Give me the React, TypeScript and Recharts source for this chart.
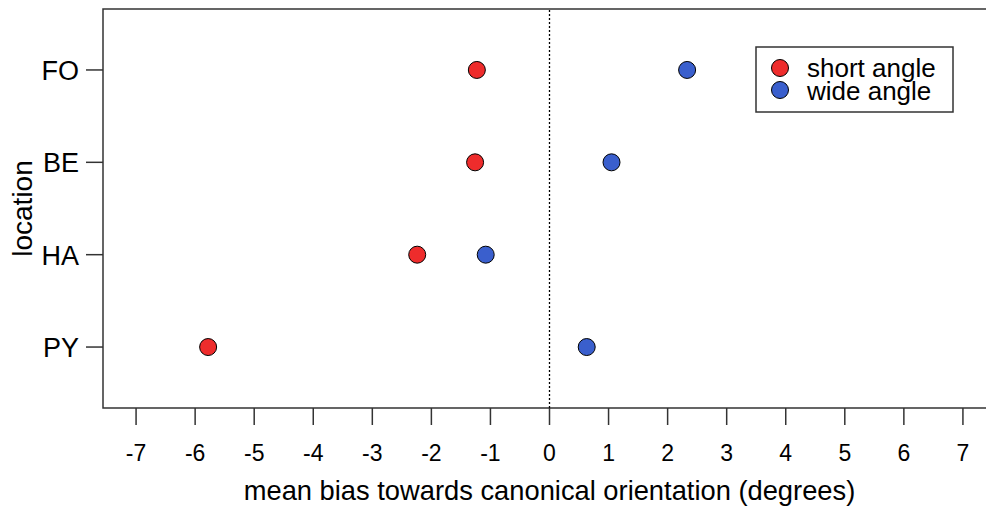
import {
  Label,
  Legend,
  ReferenceArea,
  ReferenceLine,
  Scatter,
  ScatterChart,
  XAxis,
  YAxis,
} from 'recharts';

const locations = ['PY', 'HA', 'BE', 'FO'];
const shortAngle = [-5.78, -2.24, -1.26, -1.23];
const wideAngle = [0.63, -1.08, 1.05, 2.33];
const xTicks = [-7, -6, -5, -4, -3, -2, -1, 0, 1, 2, 3, 4, 5, 6, 7];
const yTicks = [1, 2, 3, 4];

const RED = '#EE2C2C';
const BLUE = '#3A5FCD';
const FONT = '"Liberation Sans", Arial, sans-serif';

const shortData = shortAngle.map((v, i) => ({ x: v, y: i + 1, loc: locations[i] }));
const wideData = wideAngle.map((v, i) => ({ x: v, y: i + 1, loc: locations[i] }));

function Dot(fill: string) {
  return (props: any) => (
    <circle cx={props.cx} cy={props.cy} r={8.5} fill={fill} stroke="#000" strokeWidth={1} />
  );
}

function XTick({ x, y, payload }: any) {
  return (
    <text x={x} y={y + 36} textAnchor="middle" fontSize={23} fontFamily={FONT} fill="#000">
      {payload.value}
    </text>
  );
}

function YTick({ x, y, payload }: any) {
  return (
    <text x={x} y={y + 10} textAnchor="end" fontSize={27} fontFamily={FONT} fill="#000">
      {locations[payload.value - 1]}
    </text>
  );
}

function LegendBox() {
  return (
    <svg width={200} height={68}>
      <rect x={1} y={1} width={197} height={65} fill="#fff" stroke="#333" strokeWidth={1.5} />
      <circle cx={25} cy={22} r={8.5} fill={RED} stroke="#000" strokeWidth={1} />
      <circle cx={25} cy={44} r={8.5} fill={BLUE} stroke="#000" strokeWidth={1} />
      <text x={52} y={31} fontSize={26} fontFamily={FONT} fill="#000">short angle</text>
      <text x={52} y={54} fontSize={26} fontFamily={FONT} fill="#000">wide angle</text>
    </svg>
  );
}

export default function App() {
  return (
    <div
      style={{
        position: 'absolute',
        left: 0,
        top: 0,
        width: 986,
        height: 512,
        overflow: 'hidden',
        background: '#fff',
      }}
    >
      <ScatterChart width={1000} height={512} margin={{ top: 9, right: 4, bottom: 0, left: 0 }}>
        <XAxis
          type="number"
          dataKey="x"
          domain={[-7.56, 7.56]}
          ticks={xTicks}
          interval={0}
          allowDataOverflow
          height={104}
          axisLine={false}
          tickSize={17}
          tickMargin={0}
          tickLine={{ stroke: '#333', strokeWidth: 1.5 }}
          tick={<XTick />}
        >
          <Label
            content={({ viewBox }: any) => (
              <text
                x={viewBox.x + viewBox.width / 2}
                y={viewBox.y + 92}
                textAnchor="middle"
                fontSize={27.3}
                fontFamily={FONT}
                fill="#000"
              >
                mean bias towards canonical orientation (degrees)
              </text>
            )}
          />
        </XAxis>
        <YAxis
          type="number"
          dataKey="y"
          domain={[0.34, 4.66]}
          ticks={yTicks}
          interval={0}
          allowDataOverflow
          width={103}
          axisLine={false}
          tickSize={17}
          tickMargin={7}
          tickLine={{ stroke: '#333', strokeWidth: 1.5 }}
          tick={<YTick />}
        >
          <Label
            content={({ viewBox }: any) => (
              <text
                transform={`translate(${viewBox.x + 32}, ${viewBox.y + viewBox.height / 2}) rotate(-90)`}
                textAnchor="middle"
                fontSize={28}
                fontFamily={FONT}
                fill="#000"
              >
                location
              </text>
            )}
          />
        </YAxis>
        <ReferenceArea
          x1={-7.56}
          x2={7.56}
          y1={0.34}
          y2={4.66}
          fill="none"
          fillOpacity={0}
          stroke="#333"
          strokeWidth={1.5}
          ifOverflow="visible"
        />
        <ReferenceLine x={0} stroke="#000" strokeWidth={1.3} strokeDasharray="2 2" />
        <Legend
          layout="vertical"
          align="center"
          verticalAlign="middle"
          wrapperStyle={{ left: 755, top: 46, width: 200, height: 68 }}
          content={() => <LegendBox />}
        />
        <Scatter
          name="short angle"
          data={shortData}
          fill={RED}
          shape={Dot(RED)}
          isAnimationActive={false}
        />
        <Scatter
          name="wide angle"
          data={wideData}
          fill={BLUE}
          shape={Dot(BLUE)}
          isAnimationActive={false}
        />
      </ScatterChart>
    </div>
  );
}
